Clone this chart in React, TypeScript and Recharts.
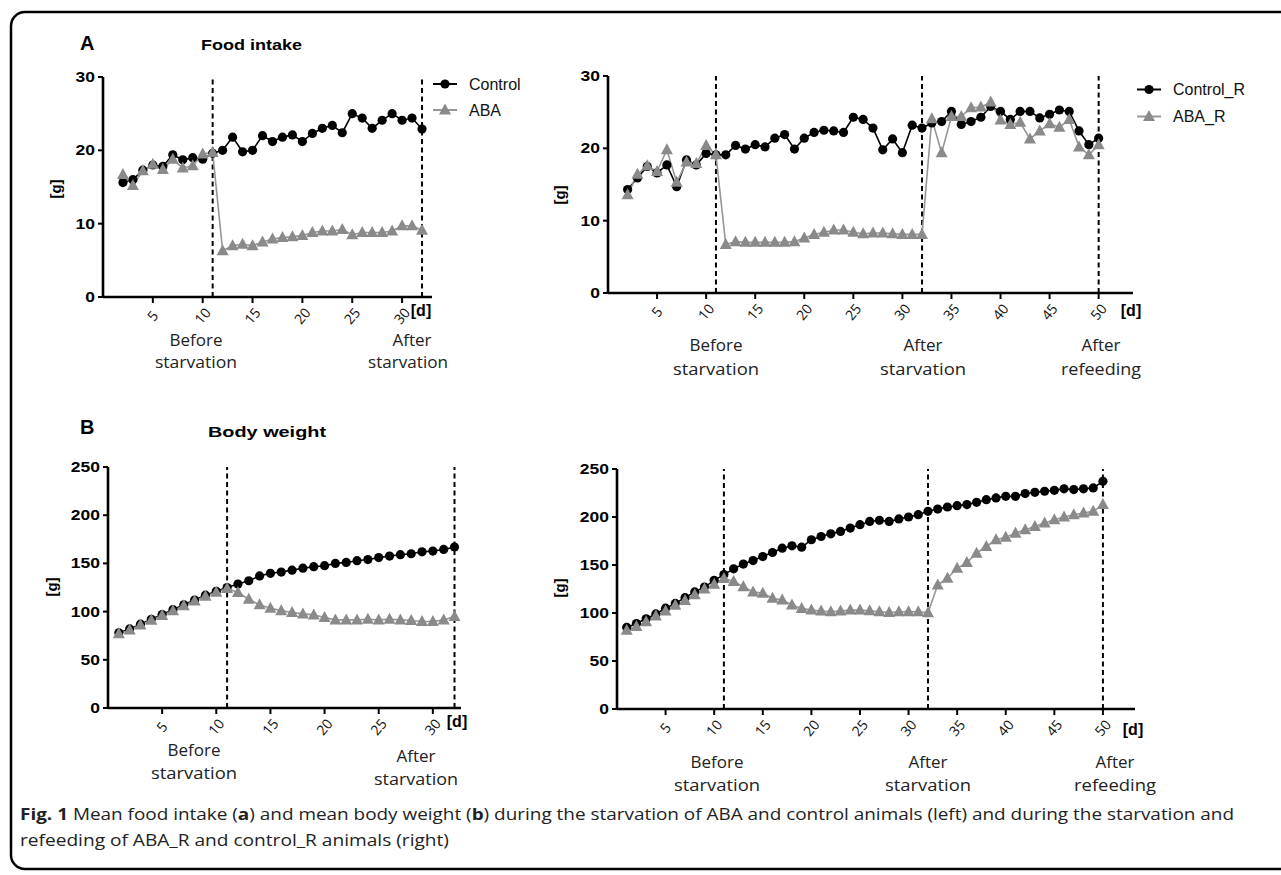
import React from 'react';
import { LineChart, Line, XAxis, YAxis, ReferenceLine, Legend } from 'recharts';

// ---------- DATA ----------
// Panel A (food intake), left: days 2..32
const daysFoodLeft = [2, 3, 4, 5, 6, 7, 8, 9, 10, 11, 12, 13, 14, 15, 16, 17, 18, 19, 20, 21, 22, 23, 24, 25, 26, 27, 28, 29, 30, 31, 32];
const foodControl = [15.6, 16.0, 17.3, 18.0, 17.8, 19.4, 18.7, 19.0, 18.8, 19.6, 20.0, 21.8, 19.8, 20.0, 22.0, 21.2, 21.8, 22.1, 21.2, 22.3, 23.0, 23.4, 22.4, 25.0, 24.4, 23.0, 24.1, 25.0, 24.1, 24.4, 22.9];
const foodABA = [16.7, 15.2, 17.2, 18.1, 17.4, 18.8, 17.6, 17.9, 19.5, 19.7, 6.3, 7.0, 7.2, 7.0, 7.5, 7.9, 8.1, 8.2, 8.4, 8.8, 9.0, 9.0, 9.2, 8.5, 8.8, 8.8, 8.8, 9.0, 9.7, 9.7, 9.1];

// Panel A (food intake), right: days 2..50
const daysFoodRight = [2, 3, 4, 5, 6, 7, 8, 9, 10, 11, 12, 13, 14, 15, 16, 17, 18, 19, 20, 21, 22, 23, 24, 25, 26, 27, 28, 29, 30, 31, 32, 33, 34, 35, 36, 37, 38, 39, 40, 41, 42, 43, 44, 45, 46, 47, 48, 49, 50];
const foodControlR = [14.3, 15.9, 17.5, 16.6, 17.7, 14.7, 18.4, 17.7, 19.3, 19.1, 19.1, 20.4, 19.9, 20.5, 20.2, 21.4, 21.9, 19.9, 21.4, 22.2, 22.5, 22.4, 22.2, 24.3, 24.0, 22.8, 19.8, 21.3, 19.4, 23.2, 22.8, 23.5, 23.7, 25.1, 23.3, 23.7, 24.3, 25.8, 25.1, 24.0, 25.1, 25.1, 24.2, 24.7, 25.3, 25.1, 22.4, 20.5, 21.4];
const foodABAR = [13.6, 16.4, 17.6, 16.8, 19.8, 15.3, 18.1, 17.9, 20.4, 19.1, 6.7, 7.1, 7.0, 7.0, 7.0, 7.0, 7.0, 7.1, 7.6, 8.1, 8.4, 8.7, 8.7, 8.4, 8.2, 8.3, 8.3, 8.2, 8.1, 8.1, 8.1, 24.1, 19.4, 24.4, 24.4, 25.6, 25.7, 26.4, 23.9, 23.3, 23.6, 21.3, 22.4, 23.4, 22.9, 24.0, 20.2, 19.1, 20.5];

// Panel B (body weight), left: days 1..32
const daysWeightLeft = [1, 2, 3, 4, 5, 6, 7, 8, 9, 10, 11, 12, 13, 14, 15, 16, 17, 18, 19, 20, 21, 22, 23, 24, 25, 26, 27, 28, 29, 30, 31, 32];
const weightControl = [78, 82, 87, 92, 97, 102, 107, 112, 117, 121, 125, 128.6, 132, 137, 139.7, 141, 143, 145, 146.6, 147.6, 150, 151, 152.8, 154, 156, 157.6, 159, 160, 162, 162.8, 164.5, 167];
const weightABA = [77, 81, 86, 91, 96, 101, 106, 111, 116, 120, 124, 119.7, 112.8, 107, 103.4, 101, 99, 97.6, 96.6, 93.8, 91.4, 91.4, 91.4, 92, 91.4, 92, 91.4, 90.7, 89.7, 89.7, 91.4, 95];

// Panel B (body weight), right: days 1..50
const daysWeightRight = [1, 2, 3, 4, 5, 6, 7, 8, 9, 10, 11, 12, 13, 14, 15, 16, 17, 18, 19, 20, 21, 22, 23, 24, 25, 26, 27, 28, 29, 30, 31, 32, 33, 34, 35, 36, 37, 38, 39, 40, 41, 42, 43, 44, 45, 46, 47, 48, 49, 50];
const weightControlR = [85, 89, 94, 99, 105, 110, 116, 122, 127, 134, 140, 146, 151, 154.6, 158.8, 163, 167.5, 170, 168.6, 176.3, 179.7, 182.5, 185, 188.5, 192, 195.4, 196.5, 195.4, 198, 200, 202.4, 205.9, 208.3, 210.4, 211.8, 212.9, 215.3, 218, 219.9, 221.5, 221.5, 224.4, 225.7, 226.8, 227.8, 229.3, 228.6, 229.3, 230.3, 237.2];
const weightABAR = [82, 86, 91, 97, 102, 108, 113, 119, 125, 130, 136, 132.7, 127.4, 122, 120.5, 115.3, 113.5, 108.3, 104.8, 103, 102, 101.3, 102, 103, 103, 102.4, 101.3, 100.6, 101.3, 101.3, 101.3, 100.2, 129.2, 136.2, 146.6, 152.5, 162.3, 169.3, 176.3, 179, 183.2, 186.7, 190.2, 193.7, 197.2, 200, 202.4, 204.2, 205.9, 212.9];

// Ticks
const xTicksLeft = [5, 10, 15, 20, 25, 30];
const xTicksRight = [5, 10, 15, 20, 25, 30, 35, 40, 45, 50];
const yTicksFood = [0, 10, 20, 30];
const yTicksWeight = [0, 50, 100, 150, 200, 250];
const refDaysLeft = [11, 32];
const refDaysRight = [11, 32, 50];

const makeRows = (days: number[], c: number[], a: number[]) =>
  days.map((d, i) => ({ day: d, control: c[i], aba: a[i] }));

const GRAY = '#8a8a8a';
const GRAY_LINE = '#969696';

const CircleDot = (p: any) => {
  const { cx, cy } = p;
  if (cx == null || cy == null) return null;
  return <circle cx={cx} cy={cy} r={4.6} fill="#000" />;
};
const TriDot = (p: any) => {
  const { cx, cy } = p;
  if (cx == null || cy == null) return null;
  return <polygon points={`${cx},${cy - 6.5} ${cx - 6},${cy + 4.5} ${cx + 6},${cy + 4.5}`} fill={GRAY} />;
};

const XTick = (p: any) => {
  const { x, y, payload } = p;
  return (
    <g transform={`translate(${x},${y + 11})`}>
      <text x={0} y={0} dy="0.35em" textAnchor="middle" transform="rotate(-50)" fontSize={14} fontFamily="Open Sans, sans-serif" fill="#111">
        {payload.value}
      </text>
    </g>
  );
};
const YTick = (p: any) => {
  const { x, y, payload } = p;
  return (
    <g transform={`translate(${x - 1},${y}) scale(1.25,1)`}>
      <text x={0} y={0} dy="0.36em" textAnchor="end" fontSize={14} fontWeight="bold" fontFamily="Liberation Sans, Arial, sans-serif" fill="#000">
        {payload.value}
      </text>
    </g>
  );
};

const makeLegend = (labels: string[], gap: number) => (props: any) => (
  <svg width={150} height={gap * 2} style={{ display: 'block' }}>
    {labels.map((lab, i) => {
      const cy = gap / 2 + i * gap;
      return (
        <g key={lab}>
          <line x1={0} x2={24} y1={cy} y2={cy} stroke={i === 0 ? '#000' : GRAY_LINE} strokeWidth={2} />
          {i === 0 ? (
            <circle cx={12} cy={cy} r={4.6} fill="#000" />
          ) : (
            <polygon points={`12,${cy - 6.5} 6,${cy + 4.5} 18,${cy + 4.5}`} fill={GRAY} />
          )}
          <text x={36} y={cy} dy="0.36em" fontSize={16} fontFamily="Liberation Sans, Arial, sans-serif" fill="#111">
            {lab}
          </text>
        </g>
      );
    })}
  </svg>
);

type PanelProps = {
  left: number; top: number; w: number; h: number;
  rows: any[]; xMax: number; yMax: number; xTicks: number[]; yTicks: number[];
  refs: number[]; names: string[];
  legend?: { x: number; y: number; gap: number };
};

const ML = 70, MT = 20, MR = 20, MB = 10, XH = 30;

const Panel = ({ left, top, w, h, rows, xMax, yMax, xTicks, yTicks, refs, names, legend }: PanelProps) => (
  <div style={{ position: 'absolute', left: left - ML, top: top - MT }}>
    <LineChart width={w + ML + MR} height={h + MT + XH + MB} data={rows} margin={{ top: MT, right: MR, left: 0, bottom: MB }}>
      <XAxis
        type="number" dataKey="day" domain={[0, xMax]} ticks={xTicks} allowDataOverflow interval={0}
        height={XH} tickSize={6} tick={<XTick />}
        axisLine={{ stroke: '#000', strokeWidth: 2.6 }} tickLine={{ stroke: '#000', strokeWidth: 2 }}
      />
      <YAxis
        type="number" domain={[0, yMax]} ticks={yTicks} width={ML} interval={0} tickSize={5} tick={<YTick />}
        axisLine={{ stroke: '#000', strokeWidth: 2.6 }} tickLine={{ stroke: '#000', strokeWidth: 2 }}
      />
      {refs.map((d) => (
        <ReferenceLine key={d} x={d} stroke="#000" strokeWidth={2} strokeDasharray="5 3.5" />
      ))}
      <Line type="linear" dataKey="control" name={names[0]} stroke="#000" strokeWidth={1.6} dot={<CircleDot />} activeDot={false} isAnimationActive={false} legendType="circle" />
      <Line type="linear" dataKey="aba" name={names[1]} stroke={GRAY_LINE} strokeWidth={1.6} dot={<TriDot />} activeDot={false} isAnimationActive={false} legendType="triangle" />
      {legend && (
        <Legend
          layout="vertical" align="center" verticalAlign="middle"
          wrapperStyle={{ position: 'absolute', left: legend.x - (left - ML), top: legend.y - (top - MT), width: 150, height: legend.gap * 2 }}
          content={makeLegend(names, legend.gap)}
        />
      )}
    </LineChart>
  </div>
);

const TXT = 'Open Sans, sans-serif';
const ARIAL = 'Liberation Sans, Arial, sans-serif';

const Lbl = ({ x, y, t, size = 17, len }: { x: number; y: number; t: string; size?: number; len?: number }) => (
  <text x={x} y={y} textAnchor="middle" fontSize={size} fontFamily={TXT} fill="#222" {...(len ? { textLength: len, lengthAdjust: 'spacingAndGlyphs' } : {})}>
    {t}
  </text>
);

export default function App() {
  return (
    <div style={{ position: 'absolute', left: 0, top: 0, width: 1281, height: 875, background: '#fff', overflow: 'hidden' }}>
      <Panel left={103} top={77} w={329} h={220} rows={makeRows(daysFoodLeft, foodControl, foodABA)} xMax={33} yMax={30}
        xTicks={xTicksLeft} yTicks={yTicksFood} refs={refDaysLeft} names={['Control', 'ABA']} legend={{ x: 433, y: 71, gap: 26 }} />
      <Panel left={608} top={76} w={525} h={217} rows={makeRows(daysFoodRight, foodControlR, foodABAR)} xMax={53.5} yMax={30}
        xTicks={xTicksRight} yTicks={yTicksFood} refs={refDaysRight} names={['Control_R', 'ABA_R']} legend={{ x: 1137, y: 76, gap: 27 }} />
      <Panel left={108} top={467} w={353} h={241} rows={makeRows(daysWeightLeft, weightControl, weightABA)} xMax={32.6} yMax={250}
        xTicks={xTicksLeft} yTicks={yTicksWeight} refs={refDaysLeft} names={['Control', 'ABA']} />
      <Panel left={617} top={469} w={518} h={240} rows={makeRows(daysWeightRight, weightControlR, weightABAR)} xMax={53.3} yMax={250}
        xTicks={xTicksRight} yTicks={yTicksWeight} refs={refDaysRight} names={['Control_R', 'ABA_R']} />

      <svg width={1281} height={875} style={{ position: 'absolute', left: 0, top: 0, pointerEvents: 'none' }}>
        <rect x={11} y={12} width={1320} height={857} rx={14} fill="none" stroke="#000" strokeWidth={2.5} />

        <text x={80} y={50} fontSize={20} fontWeight="bold" fontFamily={ARIAL}>A</text>
        <text x={201} y={50} fontSize={15} fontWeight="bold" fontFamily={ARIAL} textLength={101} lengthAdjust="spacingAndGlyphs">Food intake</text>
        <text x={80} y={434} fontSize={20} fontWeight="bold" fontFamily={ARIAL}>B</text>
        <text x={208} y={437} fontSize={15} fontWeight="bold" fontFamily={ARIAL} textLength={118} lengthAdjust="spacingAndGlyphs">Body weight</text>

        {[[56, 189], [560, 195], [52, 587], [560, 588]].map(([x, y], i) => (
          <text key={i} x={0} y={0} transform={`translate(${x + 5},${y}) rotate(-90)`} textAnchor="middle" fontSize={15} fontWeight="bold" fontFamily={ARIAL}>[g]</text>
        ))}
        {[[421, 316], [1131, 316], [457, 727], [1133, 735]].map(([x, y], i) => (
          <text key={i} x={x} y={y} textAnchor="middle" fontSize={16} fontWeight="bold" fontFamily={ARIAL}>[d]</text>
        ))}

        <Lbl x={196} y={346} t="Before" />
        <Lbl x={196} y={368} t="starvation" len={82} />
        <Lbl x={412} y={346} t="After" />
        <Lbl x={408} y={368} t="starvation" len={80} />

        <Lbl x={716} y={351} t="Before" />
        <Lbl x={716} y={375} t="starvation" len={86} />
        <Lbl x={923} y={351} t="After" />
        <Lbl x={923} y={375} t="starvation" len={86} />
        <Lbl x={1101} y={351} t="After" />
        <Lbl x={1101} y={375} t="refeeding" len={80} />

        <Lbl x={194} y={756} t="Before" />
        <Lbl x={194} y={779} t="starvation" len={86} />
        <Lbl x={416} y={762} t="After" />
        <Lbl x={416} y={785} t="starvation" len={84} />

        <Lbl x={717} y={768} t="Before" />
        <Lbl x={717} y={791} t="starvation" len={86} />
        <Lbl x={928} y={768} t="After" />
        <Lbl x={928} y={791} t="starvation" len={86} />
        <Lbl x={1115} y={768} t="After" />
        <Lbl x={1115} y={791} t="refeeding" len={82} />

        <text x={20} y={820} fontSize={16} fontFamily={TXT} fill="#222" textLength={1214} lengthAdjust="spacingAndGlyphs">
          <tspan fontWeight="bold">Fig. 1</tspan> Mean food intake (<tspan fontWeight="bold">a</tspan>) and mean body weight (<tspan fontWeight="bold">b</tspan>) during the starvation of ABA and control animals (left) and during the starvation and
        </text>
        <text x={20} y={846} fontSize={16} fontFamily={TXT} fill="#222" textLength={429} lengthAdjust="spacingAndGlyphs">
          refeeding of ABA_R and control_R animals (right)
        </text>
      </svg>
    </div>
  );
}
